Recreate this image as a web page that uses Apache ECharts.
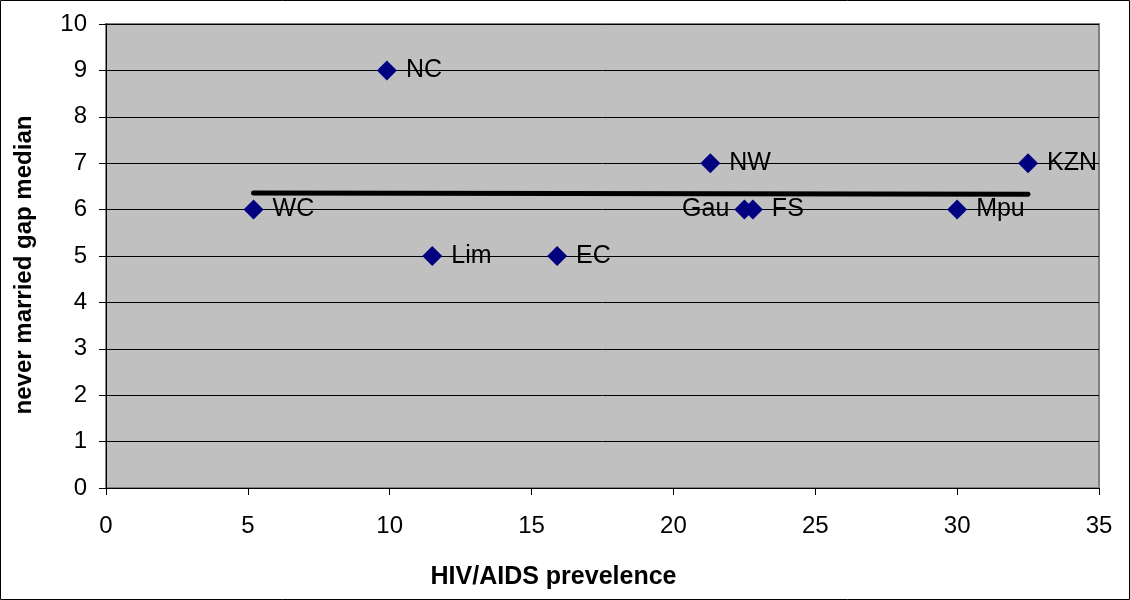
<!DOCTYPE html>
<html>
<head>
<meta charset="utf-8">
<script src="https://cdn.jsdelivr.net/npm/echarts@6/dist/echarts.min.js"></script>
<style>
  html, body { margin: 0; padding: 0; background: #fff; }
  #chart { width: 1130px; height: 600px; }
</style>
</head>
<body>
<div id="chart"></div>
<script>
const regions = ['WC', 'NC', 'Lim', 'EC', 'NW', 'Gau', 'FS', 'Mpu', 'KZN'];
const prevalence = [5.2, 9.9, 11.5, 15.9, 21.3, 22.5, 22.8, 30.0, 32.5];
const gapMedian = [6, 9, 5, 5, 7, 6, 6, 6, 7];
// trend line end points
const trendX = [5.2, 32.5];
const trendY = [6.36, 6.33];

const font = 'Liberation Sans, Arial, sans-serif';

let app = echarts.init(document.getElementById('chart'));

let points = regions.map((name, i) => {
    let p = {name, value: [prevalence[i], gapMedian[i]]};
    if (name === 'Gau') p.label = {position: 'left', distance: 5};
    return p;
});

let option = {
    animation: false,
    graphic: [{
        type: 'rect',
        shape: {x: 0.5, y: 0.5, width: 1129, height: 599},
        style: {fill: 'none', stroke: '#000', lineWidth: 1}
    }],
    grid: {
        left: 106, top: 24, right: 31, bottom: 112,
        show: true,
        backgroundColor: '#c0c0c0',
        borderColor: '#808080',
        borderWidth: 2
    },
    xAxis: {
        type: 'value',
        min: 0, max: 35, interval: 5,
        name: 'HIV/AIDS prevelence',
        nameLocation: 'middle',
        nameGap: 77,
        // title sits left of the plot centre in the original
        nameTextStyle: {fontFamily: font, fontSize: 25, fontWeight: 'bold', color: '#000', padding: [0, 98, 0, 0]},
        axisLine: {show: true, onZero: false, lineStyle: {color: '#000', width: 1}},
        axisTick: {show: true, length: 7, lineStyle: {color: '#000'}},
        axisLabel: {fontFamily: font, fontSize: 24, color: '#000', margin: 26},
        splitLine: {show: false}
    },
    yAxis: {
        type: 'value',
        min: 0, max: 10, interval: 1,
        name: 'never married gap median',
        nameLocation: 'middle',
        nameRotate: 90,
        nameGap: 70,
        nameTextStyle: {fontFamily: font, fontSize: 24, fontWeight: 'bold', color: '#000', padding: [0, 18, 0, 0]},
        axisLine: {show: true, onZero: false, lineStyle: {color: '#000', width: 1}},
        axisTick: {show: true, length: 7, lineStyle: {color: '#000'}},
        axisLabel: {fontFamily: font, fontSize: 24, color: '#000', margin: 19},
        splitLine: {show: true, lineStyle: {color: '#000', width: 1}}
    },
    series: [
        {
            type: 'line',
            data: trendX.map((x, i) => [x, trendY[i]]),
            symbol: 'none',
            lineStyle: {color: '#000', width: 5, cap: 'round'},
            z: 2
        },
        {
            type: 'scatter',
            data: points,
            symbol: 'diamond',
            symbolSize: 20,
            itemStyle: {color: '#000080', opacity: 1},
            label: {
                show: true,
                position: 'right',
                distance: 9,
                formatter: '{b}',
                fontFamily: font,
                fontSize: 25,
                color: '#000'
            },
            z: 3
        }
    ]
};

app.setOption(option);
</script>
</body>
</html>
